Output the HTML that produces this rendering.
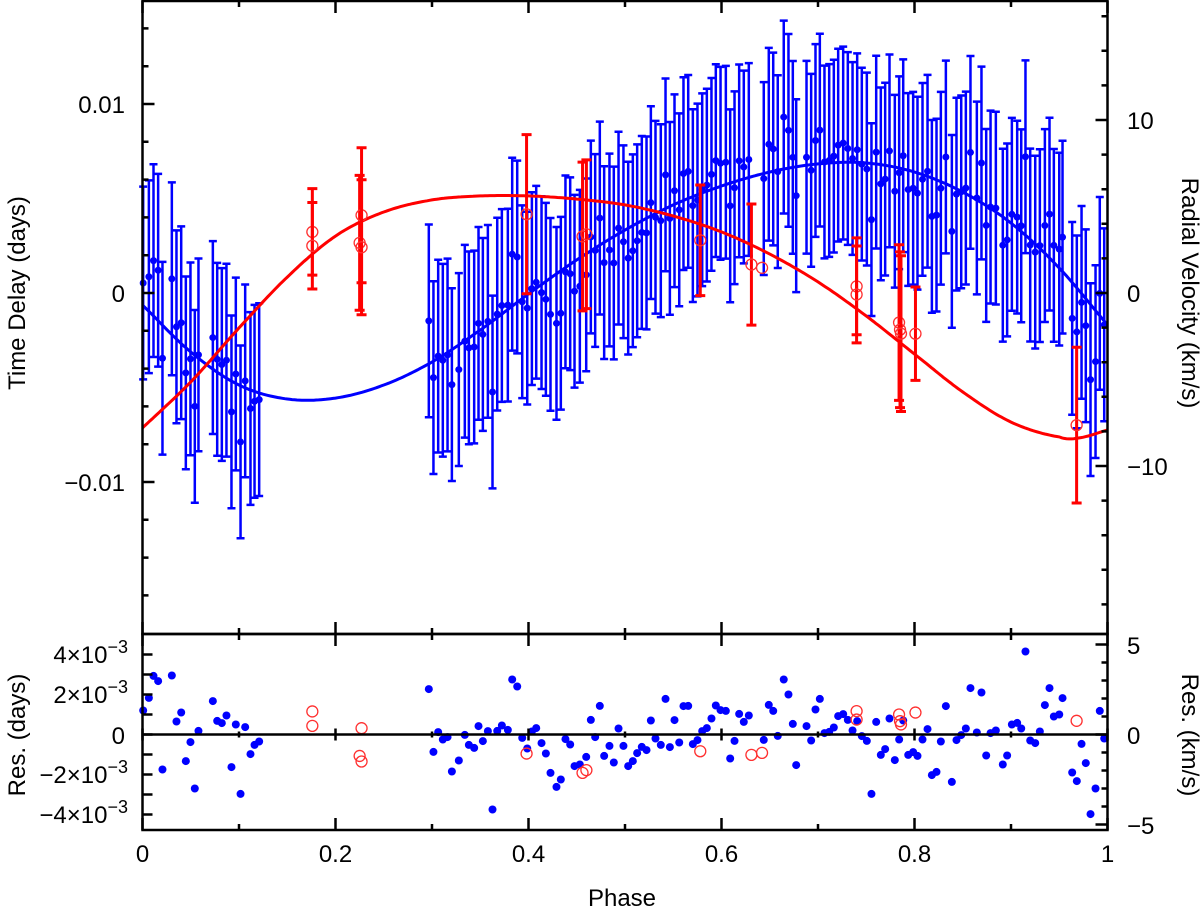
<!DOCTYPE html>
<html><head><meta charset="utf-8"><style>
html,body{margin:0;padding:0;background:#fff;}
svg text{font-family:"Liberation Sans",sans-serif;fill:#000;}
</style></head><body>
<svg id="chart" width="1200" height="910" viewBox="0 0 1200 910" xmlns="http://www.w3.org/2000/svg">
<g id="marks"></g>
<g id="axes"></g>
</svg>
<script>
// ---- data ----
const curveBluePhases = [0,0.05,0.1,0.15,0.2,0.25,0.3,0.35,0.4,0.45,0.5,0.55,0.6,0.65,0.7,0.75,0.8,0.85,0.9,0.95,1.0];
const curveBlueDelay = [-0.000635,-0.00312,-0.00487,-0.00561,-0.00556,-0.00487,-0.00365,-0.00196,-0.00005,0.00175,0.00333,0.00466,0.00566,0.00640,0.00683,0.00688,0.00640,0.00534,0.00370,0.00132,-0.00169];
const curveRedPhases = [0,0.05,0.1,0.15,0.2,0.25,0.3,0.35,0.4,0.45,0.5,0.55,0.6,0.65,0.7,0.75,0.8,0.85,0.9,0.95,0.97,1.0];
const curveRedRV = [-7.80,-5.14,-2.02,0.92,3.29,4.68,5.38,5.61,5.61,5.43,5.09,4.45,3.53,2.25,0.64,-1.33,-3.53,-5.72,-7.46,-8.32,-8.38,-7.92];
const bluePhases = [0.0007,0.0066,0.0114,0.0162,0.0207,0.0304,0.0352,0.0401,0.0449,0.0497,0.0542,0.0580,0.0729,0.0774,0.0822,0.0870,0.0922,0.0967,0.1016,0.1064,0.1119,0.1161,0.1209,
0.2967,0.3015,0.3064,0.3112,0.3161,0.3206,0.3278,0.3340,0.3382,0.3437,0.3482,0.3527,0.3579,0.3627,0.3676,0.3724,0.3786,0.3831,0.3883,0.3935,0.3987,0.4035,0.4080,0.4135,0.4180,0.4228,0.4290,0.4335,0.4383,0.4432,0.4477,0.4532,0.4598,0.4646,0.4691,0.4739,0.4784,0.4839,0.4884,0.4933,0.4984,0.5033,0.5081,0.5126,0.5174,0.5223,0.5268,0.5316,0.5371,0.5420,0.5465,0.5513,0.5562,0.5606,0.5655,0.5703,0.5751,0.5800,0.5848,0.5896,0.5941,0.5990,0.6045,0.6090,0.6135,0.6183,0.6231,0.6283,0.6438,0.6490,0.6536,
0.6583,0.6645,0.6694,0.6739,0.6774,0.6881,0.6929,0.6974,0.7019,0.7067,0.7116,0.7164,0.7209,0.7261,0.7309,0.7358,0.7406,0.7454,0.7506,0.7554,0.7603,0.7651,0.7696,0.7741,0.7796,0.7841,0.7883,0.7935,0.7986,0.8031,0.8083,0.8135,0.8180,0.8228,0.8273,0.8325,0.8387,0.8435,0.8484,0.8532,0.8580,0.8646,0.8694,0.8743,0.8788,0.8843,0.8915,0.8960,0.9009,0.9064,0.9106,0.9150,0.9199,0.9251,0.9299,0.9351,0.9399,0.9444,0.9500,0.9534,0.9634,0.9682,0.9731,0.9775,0.9824,0.9876,0.9920,0.9966];
// residuals in units of 1e-3 days
const blueResid = [1.20,1.83,2.93,2.67,-1.75,2.95,0.65,1.10,-1.33,-0.38,-2.70,0.18,1.67,0.68,0.57,0.95,-1.63,0.50,-2.97,0.37,-0.98,-0.52,-0.35,
2.27,-0.87,0.12,-0.25,-0.13,-1.85,-1.30,-0.02,-0.52,-0.67,0.42,-0.33,0.17,-3.75,0.18,0.45,0.23,2.75,2.40,-0.17,-0.70,0.15,0.32,-0.43,-0.95,-1.92,-2.62,-2.25,-0.23,-0.50,-1.58,-1.50,-1.12,0.73,-0.13,1.43,-1.07,-0.57,-1.40,0.30,-0.57,-1.58,-1.33,-0.93,-0.62,-0.78,0.70,-0.20,-0.52,1.78,-0.63,0.72,-0.40,1.42,1.43,-0.48,-0.28,0.17,0.32,0.80,1.45,1.22,1.18,-1.20,-0.32,1.03,0.63,0.95,-0.27,1.48,1.18,
-0.07,2.75,2.00,0.53,-1.53,0.42,-0.30,1.25,1.78,0.07,0.13,0.35,0.92,1.02,0.73,0.20,0.67,-0.08,-0.32,-2.97,0.63,-1.02,-0.73,0.80,-1.28,-0.25,0.70,-1.02,-0.88,-1.07,-0.25,0.27,-2.03,-1.87,-0.35,1.42,-2.37,-0.28,-0.03,0.30,2.32,0.10,2.10,-1.05,0.07,0.20,-1.50,-1.05,0.50,0.58,0.30,4.15,-0.30,-0.43,0.15,1.47,2.32,0.90,1.00,1.82,-1.90,-2.33,-0.47,-1.43,-3.98,-2.70,1.18,-0.20];
const blueErr = 0.0051;
const redPhases = [0.176,0.176,0.225,0.227,0.227,0.398,0.456,0.460,0.578,0.631,0.642,0.740,0.740,0.784,0.785,0.786,0.801,0.968];
const redResid = [1.28,0.48,-1.19,0.35,-1.50,-1.06,-2.13,-1.98,-0.93,-1.13,-1.02,1.30,0.83,1.11,0.74,0.56,1.22,0.76];
const redErr = [2.5,2.5,3.9,3.9,3.9,4.6,4.3,4.3,3.2,3.5,0,2.8,2.8,4.5,4.5,4.5,2.7,4.5];
const xTicks = ["0","0.2","0.4","0.6","0.8","1"];

// ---- scales ----
const X0=142.5, X1=1107.5, TOP=1, MID=634, BOT=830;
const sx = p => X0 + p*(X1-X0);
const syT = v => 293 - v*18900;
const syR = v => 293 - v*17.3;
const syRes = v => 734.5 - v*20;
const syResK = v => 734.5 - v*18;
const NS='http://www.w3.org/2000/svg';
const marks=document.getElementById('marks'), axes=document.getElementById('axes');
function mk(tag, attrs, parent){const e=document.createElementNS(NS,tag);for(const k in attrs)e.setAttribute(k,attrs[k]);parent.appendChild(e);return e;}
function interp(ps,vs,p){const n=vs.length;for(let i=0;i<n-1;i++){if(p<=ps[i+1]){const t=(p-ps[i])/(ps[i+1]-ps[i]);
 const p1=vs[i],p2=vs[i+1];
 const p0=i>0?vs[i-1]:2*p1-p2, p3=i+2<n?vs[i+2]:2*p2-p1;
 return 0.5*((2*p1)+(-p0+p2)*t+(2*p0-5*p1+4*p2-p3)*t*t+(-p0+3*p1-3*p2+p3)*t*t*t);}}return vs[n-1];}
function curvePath(ps,vs,sy){let d='';for(let i=0;i<=400;i++){const p=i/400;d+=(i?'L':'M')+sx(p).toFixed(1)+','+sy(interp(ps,vs,p)).toFixed(1);}return d;}

const gB=mk('g',{},marks);


bluePhases.forEach((p,i)=>{
 const v=interp(curveBluePhases,curveBlueDelay,p)+blueResid[i]*1e-3;
 const x=sx(p), y=syT(v), yt=syT(v+blueErr), yb=syT(v-blueErr);
 const l=mk('path',{d:`M${x},${yt}L${x},${yb}M${x-4},${yt}L${x+4},${yt}M${x-4},${yb}L${x+4},${yb}`,stroke:'#0000ff','stroke-width':2.5,fill:'none'},gB);
 
 
 const c=mk('circle',{cx:x,cy:y,r:3.5,fill:'#0000ff'},gB);
 
 
 const r=mk('circle',{cx:x,cy:syRes(blueResid[i]),r:4,fill:'#0000ff'},gB);
 
 
});
const bc=mk('path',{d:curvePath(curveBluePhases,curveBlueDelay,syT),stroke:'#0000ff','stroke-width':3,fill:'none'},marks);


const rc=mk('path',{d:curvePath(curveRedPhases,curveRedRV,syR),stroke:'#ff0000','stroke-width':3,fill:'none'},marks);


const gR=mk('g',{},marks);


redPhases.forEach((p,i)=>{
 const v=interp(curveRedPhases,curveRedRV,p)+redResid[i];
 const x=sx(p), y=syR(v);
 if(redErr[i]>0){const yt=syR(v+redErr[i]), yb=syR(v-redErr[i]);
 const l=mk('path',{d:`M${x},${yt}L${x},${yb}M${x-5},${yt}L${x+5},${yt}M${x-5},${yb}L${x+5},${yb}`,stroke:'#ff0000','stroke-width':3,fill:'none'},gR);
 
 }
 const c=mk('circle',{cx:x,cy:y,r:5.5,fill:'none',stroke:'#ff3030','stroke-width':1.3},gR);
 
 
 const r=mk('circle',{cx:x,cy:syResK(redResid[i]),r:5.5,fill:'none',stroke:'#ff3030','stroke-width':1.3},gR);
 
 
});

function line(d,w){return mk('path',{d:d,stroke:'#000','stroke-width':w||2.5,fill:'none'},axes);}
const f1=line(`M${X0},${TOP}L${X1},${TOP}L${X1},${MID}L${X0},${MID}Z`);


const f2=line(`M${X0},${MID}L${X1},${MID}L${X1},${BOT}L${X0},${BOT}Z`);


const zl=line(`M${X0},${syRes(0)}L${X1},${syRes(0)}`);


let d='';
for(let k=0;k<=10;k++){const x=sx(k/10),L=(k%2==0)?12:6;
 d+=`M${x},${TOP}v${L}M${x},${MID}v${-L}M${x},${MID}v${L}M${x},${BOT}v${-L}M${x},${syRes(0)-L/2}v${L}`;}
for(let v=-0.018;v<=0.0161;v+=0.002){const y=syT(v);if(y<TOP+2||y>MID-2)continue;const L=Math.abs(Math.round(v*1000)%10)==0?12:6;d+=`M${X0},${y}h${L}`;}
for(let v=-18;v<=18;v+=2){const y=syR(v);if(y<TOP+2||y>MID-2)continue;const L=v%10==0?12:6;d+=`M${X1},${y}h${-L}`;}
for(let v=-4;v<=4;v++){d+=`M${X0},${syRes(v)}h10`;}
for(let v=-5;v<=5;v++){const y=syResK(v);if(y<MID+2||y>BOT-2)continue;d+=`M${X1},${y}h${v%5==0?-12:-6}`;}
const tk=line(d,2.5);


function txt(s,x,y,anchor,name,rot){const t=mk('text',{x:x,y:y,'text-anchor':anchor||'middle','font-size':24},axes);
 if(rot)t.setAttribute('transform',`rotate(${rot} ${x} ${y})`);t.textContent=s;
 
 return t;}
xTicks.forEach((s,i)=>txt(s,sx(i*0.2),862,'middle','x-tick-label'));
txt('0.01',125,113,'end','y-left-tick-label');
txt('0',125,302,'end','y-left-tick-label');
txt('\u22120.01',125,491,'end','y-left-tick-label');
txt('10',1127,129,'start','y-right-tick-label');
txt('0',1127,302,'start','y-right-tick-label');
txt('\u221210',1127,475,'start','y-right-tick-label');
txt('5',1127,654,'start','res-right-tick-label');
txt('0',1127,744,'start','res-right-tick-label');
txt('\u22125',1127,834,'start','res-right-tick-label');
txt('0',125,744,'end','res-left-tick-label');
function sci(m,y){const t=mk('text',{x:128,y:y,'text-anchor':'end','font-size':24},axes);
 
 
 t.appendChild(document.createTextNode(m+'\u00d710'));
 const s=mk('tspan',{dy:-10,'font-size':18},t);s.textContent='\u22123';}
sci('4',663);sci('2',703);sci('\u22122',783);sci('\u22124',823);
txt('Time Delay (days)',25,293,'middle','y-left-title',-90);
txt('Radial Velocity (km/s)',1182,293,'middle','y-right-title',90);
txt('Res. (days)',25,735,'middle','res-left-title',-90);
txt('Res. (km/s)',1182,735,'middle','res-right-title',90);
txt('Phase',622,906,'middle','x-axis-title');
</script>
</body></html>
